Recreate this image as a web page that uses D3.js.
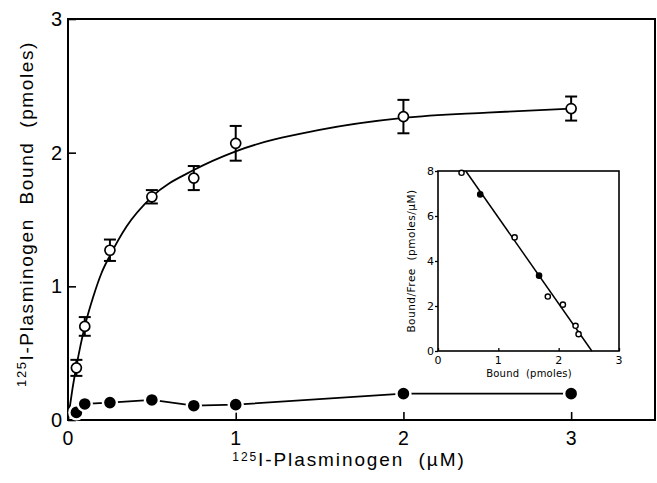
<!DOCTYPE html>
<html>
<head>
<meta charset="utf-8">
<script src="https://cdn.jsdelivr.net/npm/d3@7"></script>
<style>
  body { margin: 0; background: #fff; }
  svg { display: block; }
  text { white-space: pre; fill: #000; }
  .main text { font-family: "Liberation Sans", Arial, sans-serif; }
  .inset text { font-family: "DejaVu Sans", sans-serif; }
</style>
</head>
<body>
<div id="chart"></div>
<script>
// main plot: 125I-plasminogen added (uM) vs bound (pmoles)
const conc = [0.05, 0.1, 0.25, 0.5, 0.75, 1, 2, 3];
const totalBound = [0.39, 0.70, 1.27, 1.67, 1.81, 2.07, 2.27, 2.33];
const totalErr = [0.06, 0.07, 0.08, 0.05, 0.09, 0.13, 0.125, 0.09];
const nonspecific = [0.057, 0.12, 0.13, 0.15, 0.107, 0.115, 0.197, 0.197];

// saturation curve
const curveX = [0, 0.01, 0.025, 0.05, 0.075, 0.1, 0.15, 0.2, 0.25, 0.35, 0.5, 0.75, 1, 1.5, 2, 2.5, 3];
const curveY = [0, 0.09, 0.22, 0.40, 0.56, 0.70, 0.92, 1.10, 1.23, 1.45, 1.67, 1.87, 2.01, 2.17, 2.26, 2.30, 2.33];

const xTicks = [0, 1, 2, 3];
const yTicks = [0, 1, 2, 3];

// inset: Scatchard plot
const scBound = [0.39, 0.70, 1.27, 1.675, 1.82, 2.07, 2.28, 2.33];
const scRatio = [7.92, 6.96, 5.05, 3.35, 2.42, 2.06, 1.12, 0.75];
const scFilled = [false, true, false, true, false, false, false, false];
const fitBound = [0.46, 2.55];
const fitRatio = [8, 0];
const insetXTicks = [0, 1, 2, 3];
const insetYTicks = [0, 2, 4, 6, 8];

const W = 657, H = 483;
const svg = d3.select('#chart').append('svg')
  .attr('width', W)
  .attr('height', H);

const main = svg.append('g').attr('class', 'main');

const x = d3.scaleLinear().domain([0, 3.5]).range([68, 655]);
const y = d3.scaleLinear().domain([0, 3]).range([420, 19]);

// frame
main.append('rect')
  .attr('x', x(0))
  .attr('y', y(3))
  .attr('width', x(3.5) - x(0))
  .attr('height', y(0) - y(3))
  .attr('fill', 'none')
  .attr('stroke', '#000')
  .attr('stroke-width', 2);

const xAxis = d3.axisTop(x).tickValues(xTicks).tickSize(8).tickFormat('');
main.append('g')
  .attr('transform', `translate(0,${y(0)})`)
  .call(xAxis)
  .call(g => g.select('.domain').remove())
  .call(g => g.selectAll('line').attr('stroke-width', 1.6));

const yAxis = d3.axisRight(y).tickValues(yTicks).tickSize(8).tickFormat('');
main.append('g')
  .attr('transform', `translate(${x(0)},0)`)
  .call(yAxis)
  .call(g => g.select('.domain').remove())
  .call(g => g.selectAll('line').attr('stroke-width', 1.6));

// tick labels
main.selectAll('.xlab')
  .data(xTicks)
  .enter().append('text')
  .attr('x', d => x(d))
  .attr('y', 445)
  .attr('text-anchor', 'middle')
  .attr('font-size', 19.5)
  .text(d => d);

main.selectAll('.ylab')
  .data(yTicks)
  .enter().append('text')
  .attr('x', 62)
  .attr('y', d => y(d) + 7)
  .attr('text-anchor', 'end')
  .attr('font-size', 20)
  .text(d => d);

// axis titles
const xTitle = main.append('text')
  .attr('x', 349)
  .attr('y', 466)
  .attr('text-anchor', 'middle')
  .attr('font-size', 19)
  .attr('letter-spacing', 1.9);
xTitle.append('tspan').attr('font-size', 12).attr('dy', -5).text('125');
xTitle.append('tspan').attr('dy', 5).text('I-Plasminogen  (\u00b5M)');

const yTitle = main.append('text')
  .attr('transform', 'translate(33,214) rotate(-90)')
  .attr('text-anchor', 'middle')
  .attr('font-size', 19)
  .attr('letter-spacing', 1.6);
yTitle.append('tspan').attr('font-size', 13).attr('dy', -7).text('125');
yTitle.append('tspan').attr('dy', 7).text('I-Plasminogen  Bound  (pmoles)');

// fitted curve
const line = d3.line()
  .x(d => x(d[0]))
  .y(d => y(d[1]))
  .curve(d3.curveMonotoneX);

main.append('path')
  .datum(curveX.map((v, i) => [v, curveY[i]]))
  .attr('d', line)
  .attr('fill', 'none')
  .attr('stroke', '#000')
  .attr('stroke-width', 1.8);

// nonspecific binding line
main.append('path')
  .datum(conc.map((v, i) => [v, nonspecific[i]]))
  .attr('d', d3.line().x(d => x(d[0])).y(d => y(d[1])))
  .attr('fill', 'none')
  .attr('stroke', '#000')
  .attr('stroke-width', 1.8);

// error bars
const eb = main.selectAll('.err')
  .data(conc.map((v, i) => ({ x: v, y: totalBound[i], e: totalErr[i] })))
  .enter().append('g')
  .attr('stroke', '#000')
  .attr('stroke-width', 2);

eb.append('line')
  .attr('x1', d => x(d.x)).attr('x2', d => x(d.x))
  .attr('y1', d => y(d.y + d.e)).attr('y2', d => y(d.y - d.e));
eb.append('line')
  .attr('x1', d => x(d.x) - 6).attr('x2', d => x(d.x) + 6)
  .attr('y1', d => y(d.y + d.e)).attr('y2', d => y(d.y + d.e));
eb.append('line')
  .attr('x1', d => x(d.x) - 6).attr('x2', d => x(d.x) + 6)
  .attr('y1', d => y(d.y - d.e)).attr('y2', d => y(d.y - d.e));

// open circles
main.selectAll('.open')
  .data(conc.map((v, i) => [v, totalBound[i]]))
  .enter().append('circle')
  .attr('cx', d => x(d[0]))
  .attr('cy', d => y(d[1]))
  .attr('r', 5)
  .attr('fill', '#fff')
  .attr('stroke', '#000')
  .attr('stroke-width', 1.7);

// filled circles (white halo breaks the line near them)
main.selectAll('.filled')
  .data(conc.map((v, i) => [v, nonspecific[i]]))
  .enter().append('circle')
  .attr('cx', d => x(d[0]))
  .attr('cy', d => y(d[1]))
  .attr('r', 7)
  .attr('fill', '#000')
  .attr('stroke', '#fff')
  .attr('stroke-width', 2.4);

// ---- inset ----
const inset = svg.append('g').attr('class', 'inset');
const ix = d3.scaleLinear().domain([0, 3]).range([438, 619]);
const iy = d3.scaleLinear().domain([0, 8]).range([351, 171]);

inset.append('rect')
  .attr('x', ix(0))
  .attr('y', iy(8))
  .attr('width', ix(3) - ix(0))
  .attr('height', iy(0) - iy(8))
  .attr('fill', '#fff')
  .attr('stroke', '#000')
  .attr('stroke-width', 1.6);

inset.append('g')
  .attr('transform', `translate(0,${iy(0)})`)
  .call(d3.axisTop(ix).tickValues(insetXTicks).tickSize(3).tickFormat(''))
  .call(g => g.select('.domain').remove())
  .call(g => g.selectAll('line').attr('stroke-width', 1.3));

inset.append('g')
  .attr('transform', `translate(${ix(0)},0)`)
  .call(d3.axisLeft(iy).tickValues(insetYTicks).tickSize(3).tickFormat(''))
  .call(g => g.select('.domain').remove())
  .call(g => g.selectAll('line').attr('stroke-width', 1.3));

inset.selectAll('.ixl')
  .data(insetXTicks)
  .enter().append('text')
  .attr('x', d => ix(d))
  .attr('y', 364)
  .attr('text-anchor', 'middle')
  .attr('font-size', 11)
  .text(d => d);

inset.selectAll('.iyl')
  .data(insetYTicks)
  .enter().append('text')
  .attr('x', 434)
  .attr('y', d => iy(d) + 4)
  .attr('text-anchor', 'end')
  .attr('font-size', 11)
  .text(d => d);

inset.append('text')
  .attr('x', 529)
  .attr('y', 377)
  .attr('text-anchor', 'middle')
  .attr('font-size', 10)
  .attr('letter-spacing', 0.2)
  .text('Bound  (pmoles)');

inset.append('text')
  .attr('transform', 'translate(415,261) rotate(-90)')
  .attr('text-anchor', 'middle')
  .attr('font-size', 10.5)
  .attr('letter-spacing', 0.5)
  .text('Bound/Free  (pmoles/\u00b5M)');

inset.append('line')
  .attr('x1', ix(fitBound[0])).attr('y1', iy(fitRatio[0]))
  .attr('x2', ix(fitBound[1])).attr('y2', iy(fitRatio[1]))
  .attr('stroke', '#000')
  .attr('stroke-width', 1.5);

inset.selectAll('.pt')
  .data(scBound.map((v, i) => ({ b: v, r: scRatio[i], f: scFilled[i] })))
  .enter().append('circle')
  .attr('cx', d => ix(d.b))
  .attr('cy', d => iy(d.r))
  .attr('r', 2.6)
  .attr('fill', d => (d.f ? '#000' : '#fff'))
  .attr('stroke', '#000')
  .attr('stroke-width', 1.4);
</script>
</body>
</html>
